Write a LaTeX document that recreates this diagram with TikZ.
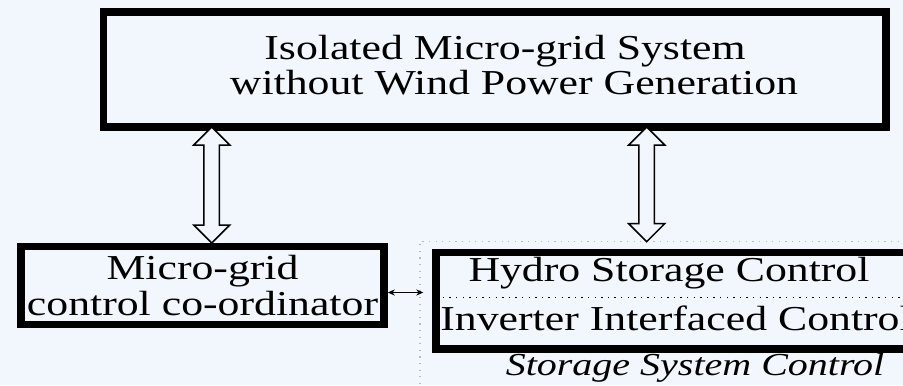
\documentclass[tikz,border=0pt]{standalone}
\usepackage{fontspec}
\setmainfont{Liberation Serif}[FakeStretch=1.25]
\usetikzlibrary{arrows.meta, positioning, calc, shapes.arrows}
\definecolor{ink}{HTML}{000000}
\definecolor{paper}{HTML}{F1F7FD}

\begin{document}
\begin{tikzpicture}[x=0.5pt, y=-0.5pt, font=\fontsize{17.5}{17.5}\selectfont,
    blk/.style={draw=ink, line width=3.75pt, fill=paper, inner sep=0pt, align=center},
    link/.style={shape=double arrow, shape border rotate=90, draw=ink, line width=0.75pt, fill=paper,
      inner sep=0pt, minimum width=18pt, double arrow head extend=0.5pt},
    sep/.style={draw=ink, line width=0.7pt, dash pattern=on 0.7pt off 2.6pt},
    frame/.style={draw=gray!55, line width=0.6pt, dash pattern=on 0.6pt off 2.7pt}]
    \path[use as bounding box, fill=paper] (0,0) rectangle (903,385);
    \clip (0,0) rectangle (903,385);
    % boxes
    \node[blk, minimum width=391.25pt, minimum height=57.5pt] (sys) at (494.75,69.5) {};
    \node[align=center] (systxt) at (505,65) {Isolated Micro-grid System\\\hspace*{9pt}without Wind Power Generation};
    \node[blk, minimum width=181.5pt, minimum height=39pt, font=\fontsize{17.5}{18.3}\selectfont] (mgc) at (202.5,285.5) {Micro-grid\\control co-ordinator};
    \node[frame, anchor=north west, minimum width=290pt, minimum height=95pt] (ssf) at (419.3,240.7) {};
    \node[blk, minimum width=240pt, minimum height=48.25pt] (ssc) at (676,300.75) {};
    \draw[sep] ($(ssc.west)+(4,-3)$) -- ($(ssc.east)+(-4,-3)$);
    \node[anchor=base] (hsc) at (669,281.7) {Hydro Storage Control};
    \node[anchor=base west, inner sep=0pt] (iic) at (440,330) {Inverter Interfaced Control};
    \node[anchor=base] (ssl) at (695,375) {\fontsize{16}{16}\selectfont\itshape Storage System Control};
    % links
    \node[link, minimum height=58pt] (l1) at (211.7,185) {};
    \node[link, minimum height=57.35pt] (l2) at (646.7,184.35) {};
    \draw[line width=0.5pt, {Stealth[length=3.5pt,width=3pt]}-{Stealth[length=3.5pt,width=3pt]}]
      ([yshift=-3.5pt]mgc.east) -- ([yshift=-3.5pt,xshift=2pt]mgc.east -| ssf.west);
\end{tikzpicture}
\end{document}
